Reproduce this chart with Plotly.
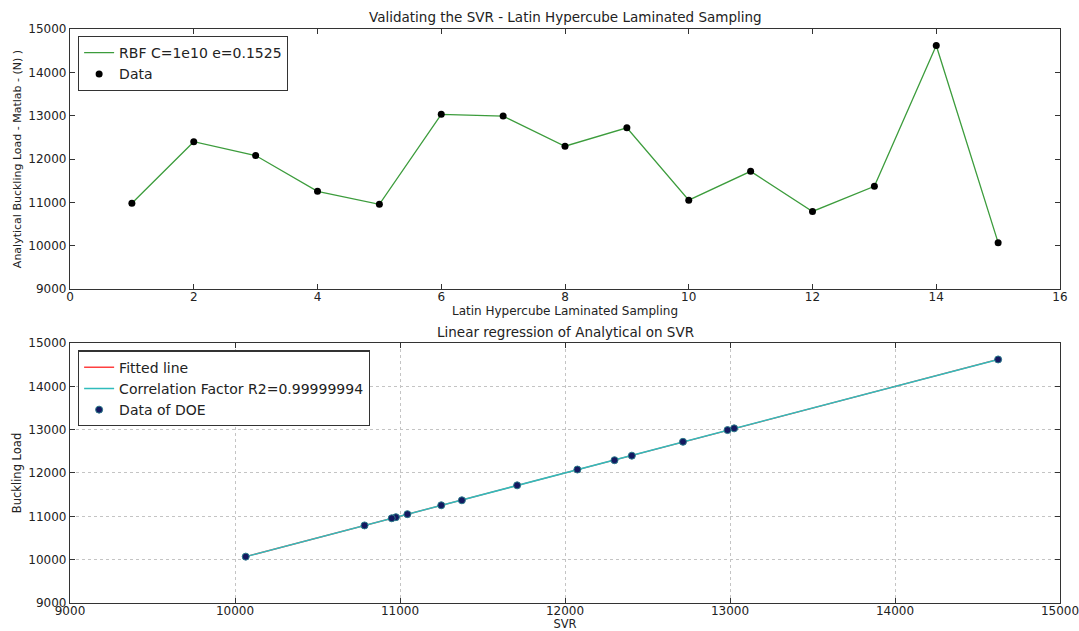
import plotly.graph_objects as go
from plotly.subplots import make_subplots

# Data
samples = list(range(1, 16))
analytical = [10980, 12400, 12080, 11255, 10955, 13030, 12990, 12295, 12720,
              11050, 11715, 10790, 11370, 14620, 10070]
svr = [10975, 12405, 12075, 11250, 10950, 13025, 12985, 12300, 12715,
       11045, 11710, 10785, 11375, 14625, 10065]

top_title = "Validating the SVR - Latin Hypercube Laminated Sampling"
bot_title = "Linear regression of Analytical on SVR"

FONT = "DejaVu Sans"
AX = "#333333"

fig = make_subplots(rows=2, cols=1, vertical_spacing=0.0)

fig.add_trace(go.Scatter(x=samples, y=analytical, mode="lines",
                         line=dict(color="#3c9c3c", width=1.3),
                         name="RBF C=1e10 e=0.1525", legend="legend"), row=1, col=1)
fig.add_trace(go.Scatter(x=samples, y=analytical, mode="markers",
                         marker=dict(color="black", size=7),
                         name="Data", legend="legend"), row=1, col=1)

pairs = sorted(zip(svr, analytical))
sx = [p[0] for p in pairs]
sy = [p[1] for p in pairs]
fig.add_trace(go.Scatter(x=sx, y=sy, mode="lines",
                         line=dict(color="#ff4040", width=1.3),
                         name="Fitted line", legend="legend2"), row=2, col=1)
fig.add_trace(go.Scatter(x=sx, y=sy, mode="lines",
                         line=dict(color="#30bcbc", width=1.5),
                         name="Correlation Factor R2=0.99999994", legend="legend2"), row=2, col=1)
fig.add_trace(go.Scatter(x=svr, y=analytical, mode="markers",
                         marker=dict(color="#141860", size=7,
                                     line=dict(color="#2a7a8a", width=1)),
                         name="Data of DOE", legend="legend2"), row=2, col=1)

axcommon = dict(showline=True, linecolor=AX, linewidth=1.2, mirror="allticks",
                ticks="inside", ticklen=5, tickcolor=AX, zeroline=False,
                automargin=False, tickformat="d", ticklabeloverflow="allow",
                tickfont=dict(family=FONT, size=12, color="#222"))

fig.update_xaxes(range=[0, 16], dtick=2, showgrid=False, **axcommon,
                 ticklabelstandoff=-4,
                 title=dict(text="Latin Hypercube Laminated Sampling",
                            font=dict(family=FONT, size=12, color="#222"), standoff=0),
                 row=1, col=1)
fig.update_yaxes(range=[9000, 15000], dtick=1000, showgrid=False, **axcommon,
                 title=dict(text="Analytical Buckling Load - Matlab - (N) )",
                            font=dict(family=FONT, size=11, color="#222"), standoff=4),
                 row=1, col=1)
fig.update_xaxes(range=[9000, 15000], dtick=1000, showgrid=True,
                 gridcolor="#c4c4c4", griddash="dot", gridwidth=1, **axcommon,
                 ticklabelstandoff=-4,
                 title=dict(text="SVR", font=dict(family=FONT, size=11.5, color="#222"), standoff=0),
                 row=2, col=1)
fig.update_yaxes(range=[9000, 15000], dtick=1000, showgrid=True,
                 gridcolor="#c4c4c4", griddash="dot", gridwidth=1, **axcommon,
                 title=dict(text="Buckling Load", font=dict(family=FONT, size=11.5, color="#222"), standoff=4),
                 row=2, col=1)

# explicit domains (matching the reference layout)
fig.update_layout(
    xaxis=dict(domain=[0.0, 1.0]),
    yaxis=dict(domain=[0.547, 1.0]),
    xaxis2=dict(domain=[0.0, 1.0]),
    yaxis2=dict(domain=[0.0, 0.453]),
)

fig.update_layout(
    width=1079, height=631,
    margin=dict(l=70, r=19, t=29, b=28),
    plot_bgcolor="white", paper_bgcolor="white",
    font=dict(family=FONT, size=12, color="#222"),
    showlegend=True,
    legend=dict(x=0.008, y=0.988, xanchor="left", yanchor="top",
                bordercolor=AX, borderwidth=1.2, bgcolor="white",
                font=dict(family=FONT, size=14), tracegroupgap=0, itemwidth=30),
    legend2=dict(x=0.008, y=0.44, xanchor="left", yanchor="top",
                 bordercolor=AX, borderwidth=1.2, bgcolor="white",
                 font=dict(family=FONT, size=14), tracegroupgap=0, itemwidth=30),
    annotations=[
        dict(text=top_title, x=0.5, y=1.0, xref="paper", yref="paper",
             xanchor="center", yanchor="bottom", yshift=2, showarrow=False,
             font=dict(family=FONT, size=13.5, color="#222")),
        dict(text=bot_title, x=0.5, y=0.453, xref="paper", yref="paper",
             xanchor="center", yanchor="bottom", yshift=1, showarrow=False,
             font=dict(family=FONT, size=13.5, color="#222")),
    ],
)

fig.write_html("out.html")
